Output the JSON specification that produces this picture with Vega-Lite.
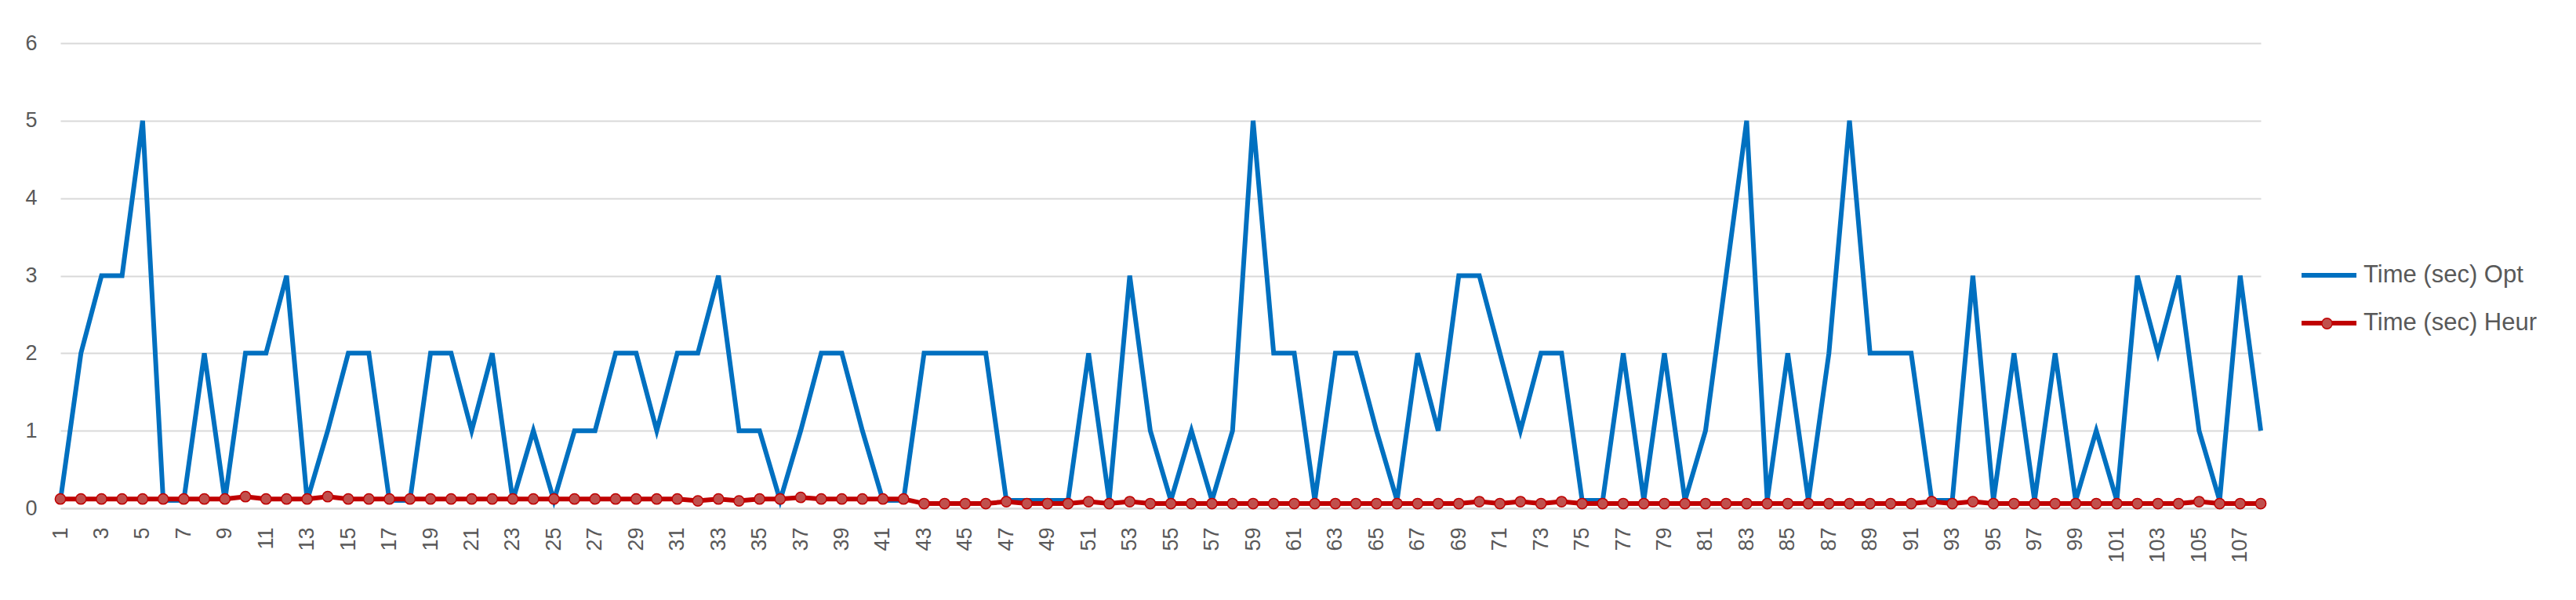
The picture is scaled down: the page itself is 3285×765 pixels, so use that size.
{
  "$schema": "https://vega.github.io/schema/vega-lite/v6.json",
  "width": 2806,
  "height": 593,
  "autosize": {"type": "none"},
  "padding": {"left": 77, "top": 55, "right": 402, "bottom": 117},
  "background": "white",
  "config": {"view": {"stroke": null}, "font": "Liberation Sans"},
  "data": {"values": [
    {"n":1,"Time (sec) Opt":0.1,"Time (sec) Heur":0.12},
    {"n":2,"Time (sec) Opt":2,"Time (sec) Heur":0.12},
    {"n":3,"Time (sec) Opt":3,"Time (sec) Heur":0.12},
    {"n":4,"Time (sec) Opt":3,"Time (sec) Heur":0.12},
    {"n":5,"Time (sec) Opt":5,"Time (sec) Heur":0.12},
    {"n":6,"Time (sec) Opt":0.1,"Time (sec) Heur":0.12},
    {"n":7,"Time (sec) Opt":0.1,"Time (sec) Heur":0.12},
    {"n":8,"Time (sec) Opt":2,"Time (sec) Heur":0.12},
    {"n":9,"Time (sec) Opt":0.1,"Time (sec) Heur":0.12},
    {"n":10,"Time (sec) Opt":2,"Time (sec) Heur":0.15},
    {"n":11,"Time (sec) Opt":2,"Time (sec) Heur":0.12},
    {"n":12,"Time (sec) Opt":3,"Time (sec) Heur":0.12},
    {"n":13,"Time (sec) Opt":0.1,"Time (sec) Heur":0.12},
    {"n":14,"Time (sec) Opt":1,"Time (sec) Heur":0.15},
    {"n":15,"Time (sec) Opt":2,"Time (sec) Heur":0.12},
    {"n":16,"Time (sec) Opt":2,"Time (sec) Heur":0.12},
    {"n":17,"Time (sec) Opt":0.1,"Time (sec) Heur":0.12},
    {"n":18,"Time (sec) Opt":0.1,"Time (sec) Heur":0.12},
    {"n":19,"Time (sec) Opt":2,"Time (sec) Heur":0.12},
    {"n":20,"Time (sec) Opt":2,"Time (sec) Heur":0.12},
    {"n":21,"Time (sec) Opt":1,"Time (sec) Heur":0.12},
    {"n":22,"Time (sec) Opt":2,"Time (sec) Heur":0.12},
    {"n":23,"Time (sec) Opt":0.1,"Time (sec) Heur":0.12},
    {"n":24,"Time (sec) Opt":1,"Time (sec) Heur":0.12},
    {"n":25,"Time (sec) Opt":0.1,"Time (sec) Heur":0.12},
    {"n":26,"Time (sec) Opt":1,"Time (sec) Heur":0.12},
    {"n":27,"Time (sec) Opt":1,"Time (sec) Heur":0.12},
    {"n":28,"Time (sec) Opt":2,"Time (sec) Heur":0.12},
    {"n":29,"Time (sec) Opt":2,"Time (sec) Heur":0.12},
    {"n":30,"Time (sec) Opt":1,"Time (sec) Heur":0.12},
    {"n":31,"Time (sec) Opt":2,"Time (sec) Heur":0.12},
    {"n":32,"Time (sec) Opt":2,"Time (sec) Heur":0.095},
    {"n":33,"Time (sec) Opt":3,"Time (sec) Heur":0.12},
    {"n":34,"Time (sec) Opt":1,"Time (sec) Heur":0.095},
    {"n":35,"Time (sec) Opt":1,"Time (sec) Heur":0.12},
    {"n":36,"Time (sec) Opt":0.1,"Time (sec) Heur":0.12},
    {"n":37,"Time (sec) Opt":1,"Time (sec) Heur":0.14},
    {"n":38,"Time (sec) Opt":2,"Time (sec) Heur":0.12},
    {"n":39,"Time (sec) Opt":2,"Time (sec) Heur":0.12},
    {"n":40,"Time (sec) Opt":1,"Time (sec) Heur":0.12},
    {"n":41,"Time (sec) Opt":0.1,"Time (sec) Heur":0.12},
    {"n":42,"Time (sec) Opt":0.1,"Time (sec) Heur":0.12},
    {"n":43,"Time (sec) Opt":2,"Time (sec) Heur":0.06},
    {"n":44,"Time (sec) Opt":2,"Time (sec) Heur":0.06},
    {"n":45,"Time (sec) Opt":2,"Time (sec) Heur":0.06},
    {"n":46,"Time (sec) Opt":2,"Time (sec) Heur":0.06},
    {"n":47,"Time (sec) Opt":0.1,"Time (sec) Heur":0.085},
    {"n":48,"Time (sec) Opt":0.1,"Time (sec) Heur":0.06},
    {"n":49,"Time (sec) Opt":0.1,"Time (sec) Heur":0.06},
    {"n":50,"Time (sec) Opt":0.1,"Time (sec) Heur":0.06},
    {"n":51,"Time (sec) Opt":2,"Time (sec) Heur":0.085},
    {"n":52,"Time (sec) Opt":0.1,"Time (sec) Heur":0.06},
    {"n":53,"Time (sec) Opt":3,"Time (sec) Heur":0.085},
    {"n":54,"Time (sec) Opt":1,"Time (sec) Heur":0.06},
    {"n":55,"Time (sec) Opt":0.1,"Time (sec) Heur":0.06},
    {"n":56,"Time (sec) Opt":1,"Time (sec) Heur":0.06},
    {"n":57,"Time (sec) Opt":0.1,"Time (sec) Heur":0.06},
    {"n":58,"Time (sec) Opt":1,"Time (sec) Heur":0.06},
    {"n":59,"Time (sec) Opt":5,"Time (sec) Heur":0.06},
    {"n":60,"Time (sec) Opt":2,"Time (sec) Heur":0.06},
    {"n":61,"Time (sec) Opt":2,"Time (sec) Heur":0.06},
    {"n":62,"Time (sec) Opt":0.1,"Time (sec) Heur":0.06},
    {"n":63,"Time (sec) Opt":2,"Time (sec) Heur":0.06},
    {"n":64,"Time (sec) Opt":2,"Time (sec) Heur":0.06},
    {"n":65,"Time (sec) Opt":1,"Time (sec) Heur":0.06},
    {"n":66,"Time (sec) Opt":0.1,"Time (sec) Heur":0.06},
    {"n":67,"Time (sec) Opt":2,"Time (sec) Heur":0.06},
    {"n":68,"Time (sec) Opt":1,"Time (sec) Heur":0.06},
    {"n":69,"Time (sec) Opt":3,"Time (sec) Heur":0.06},
    {"n":70,"Time (sec) Opt":3,"Time (sec) Heur":0.085},
    {"n":71,"Time (sec) Opt":2,"Time (sec) Heur":0.06},
    {"n":72,"Time (sec) Opt":1,"Time (sec) Heur":0.085},
    {"n":73,"Time (sec) Opt":2,"Time (sec) Heur":0.06},
    {"n":74,"Time (sec) Opt":2,"Time (sec) Heur":0.085},
    {"n":75,"Time (sec) Opt":0.1,"Time (sec) Heur":0.06},
    {"n":76,"Time (sec) Opt":0.1,"Time (sec) Heur":0.06},
    {"n":77,"Time (sec) Opt":2,"Time (sec) Heur":0.06},
    {"n":78,"Time (sec) Opt":0.1,"Time (sec) Heur":0.06},
    {"n":79,"Time (sec) Opt":2,"Time (sec) Heur":0.06},
    {"n":80,"Time (sec) Opt":0.1,"Time (sec) Heur":0.06},
    {"n":81,"Time (sec) Opt":1,"Time (sec) Heur":0.06},
    {"n":82,"Time (sec) Opt":3,"Time (sec) Heur":0.06},
    {"n":83,"Time (sec) Opt":5,"Time (sec) Heur":0.06},
    {"n":84,"Time (sec) Opt":0.1,"Time (sec) Heur":0.06},
    {"n":85,"Time (sec) Opt":2,"Time (sec) Heur":0.06},
    {"n":86,"Time (sec) Opt":0.1,"Time (sec) Heur":0.06},
    {"n":87,"Time (sec) Opt":2,"Time (sec) Heur":0.06},
    {"n":88,"Time (sec) Opt":5,"Time (sec) Heur":0.06},
    {"n":89,"Time (sec) Opt":2,"Time (sec) Heur":0.06},
    {"n":90,"Time (sec) Opt":2,"Time (sec) Heur":0.06},
    {"n":91,"Time (sec) Opt":2,"Time (sec) Heur":0.06},
    {"n":92,"Time (sec) Opt":0.1,"Time (sec) Heur":0.085},
    {"n":93,"Time (sec) Opt":0.1,"Time (sec) Heur":0.06},
    {"n":94,"Time (sec) Opt":3,"Time (sec) Heur":0.085},
    {"n":95,"Time (sec) Opt":0.1,"Time (sec) Heur":0.06},
    {"n":96,"Time (sec) Opt":2,"Time (sec) Heur":0.06},
    {"n":97,"Time (sec) Opt":0.1,"Time (sec) Heur":0.06},
    {"n":98,"Time (sec) Opt":2,"Time (sec) Heur":0.06},
    {"n":99,"Time (sec) Opt":0.1,"Time (sec) Heur":0.06},
    {"n":100,"Time (sec) Opt":1,"Time (sec) Heur":0.06},
    {"n":101,"Time (sec) Opt":0.1,"Time (sec) Heur":0.06},
    {"n":102,"Time (sec) Opt":3,"Time (sec) Heur":0.06},
    {"n":103,"Time (sec) Opt":2,"Time (sec) Heur":0.06},
    {"n":104,"Time (sec) Opt":3,"Time (sec) Heur":0.06},
    {"n":105,"Time (sec) Opt":1,"Time (sec) Heur":0.085},
    {"n":106,"Time (sec) Opt":0.1,"Time (sec) Heur":0.06},
    {"n":107,"Time (sec) Opt":3,"Time (sec) Heur":0.06},
    {"n":108,"Time (sec) Opt":1,"Time (sec) Heur":0.06}
  ]},
  "transform": [{"fold": ["Time (sec) Opt", "Time (sec) Heur"], "as": ["series", "t"]}],
  "encoding": {
    "x": {
      "field": "n", "type": "ordinal",
      "scale": {"type": "point", "padding": 0},
      "axis": {
        "title": null, "labelAngle": -90, "labelAlign": "right", "labelBaseline": "middle",
        "labelExpr": "datum.value % 2 === 1 ? datum.label : ''",
        "labelFontSize": 27, "labelColor": "#595959", "labelPadding": 24,
        "labelOverlap": false, "ticks": false, "grid": false,
        "domain": true, "domainColor": "#d9d9d9", "domainWidth": 2
      }
    },
    "y": {
      "field": "t", "type": "quantitative",
      "scale": {"domain": [0, 6], "nice": false, "zero": true},
      "axis": {
        "title": null, "values": [0, 1, 2, 3, 4, 5, 6],
        "labelFontSize": 27, "labelColor": "#595959", "labelPadding": 30,
        "ticks": false, "domain": false, "grid": true,
        "gridColor": "#d9d9d9", "gridWidth": 2
      }
    }
  },
  "layer": [
    {
      "transform": [{"filter": "datum.series === 'Time (sec) Opt'"}],
      "mark": {"type": "line", "strokeWidth": 6},
      "encoding": {
        "color": {
          "field": "series", "type": "nominal",
          "scale": {"domain": ["Time (sec) Opt", "Time (sec) Heur"], "range": ["#0070C0", "#C00000"]},
          "legend": {
            "title": null, "orient": "none", "legendX": 2855, "legendY": 258,
            "symbolType": "stroke", "symbolSize": 4900, "symbolStrokeWidth": 6,
            "labelFontSize": 31, "labelColor": "#595959", "labelOffset": 6,
            "rowPadding": 8, "padding": 0, "labelLimit": 0
          }
        }
      }
    },
    {
      "transform": [{"filter": "datum.series === 'Time (sec) Heur'"}],
      "mark": {"type": "line", "strokeWidth": 6},
      "encoding": {"color": {"field": "series", "type": "nominal"}}
    },
    {
      "transform": [{"filter": "datum.series === 'Time (sec) Heur'"}],
      "mark": {"type": "point", "filled": true, "size": 177, "stroke": "#C00000", "strokeWidth": 1.5, "opacity": 1},
      "encoding": {
        "fill": {
          "field": "series", "type": "nominal",
          "scale": {"domain": ["Time (sec) Heur"], "range": ["#C0504D"]},
          "legend": {
            "title": null, "orient": "none", "legendX": 2883, "legendY": 350,
            "symbolType": "circle", "symbolSize": 177, "symbolStrokeColor": "#C00000",
            "symbolStrokeWidth": 1.5, "symbolOpacity": 1, "labelExpr": "''", "labelFontSize": 1, "padding": 0
          }
        }
      }
    }
  ]
}
